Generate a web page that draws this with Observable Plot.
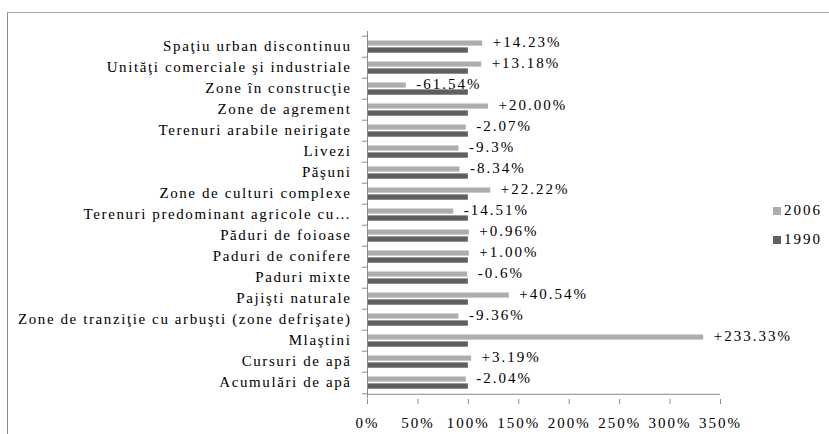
<!DOCTYPE html>
<html>
<head>
<meta charset="utf-8">
<script src="https://cdn.jsdelivr.net/npm/d3@7"></script>
<script src="https://cdn.jsdelivr.net/npm/@observablehq/plot@0.6"></script>
<style>
  html, body { margin: 0; padding: 0; background: #fff; }
  #wrap { position: relative; width: 829px; height: 434px; overflow: hidden; font-family: "Liberation Serif", "Times New Roman", serif; }
  #border { position: absolute; left: 7px; top: 12px; right: -2px; bottom: -2px; border-top: 1px solid #a8a8a8; border-left: 1px solid #8a8a8a; }
  #chart { position: absolute; left: 0; top: 0; }
  .leg { position: absolute; left: 773px; font-size: 15px; letter-spacing: 2px; color: #000; display: flex; align-items: center; line-height: 1; }
  .leg span.sw { display: inline-block; width: 8px; height: 8px; margin-right: 3px; }
  #chart svg text { font-family: "Liberation Serif", "Times New Roman", serif; }
</style>
</head>
<body>
<div id="wrap">
  <div id="border"></div>
  <div id="chart"></div>
</div>
<script>
const categories = [
  "Spaţiu urban discontinuu",
  "Unităţi comerciale şi industriale",
  "Zone în construcţie",
  "Zone de agrement",
  "Terenuri arabile neirigate",
  "Livezi",
  "Păşuni",
  "Zone de culturi complexe",
  "Terenuri predominant agricole cu…",
  "Păduri de foioase",
  "Paduri de conifere",
  "Paduri mixte",
  "Pajişti naturale",
  "Zone de tranziţie cu arbuşti (zone defrişate)",
  "Mlaştini",
  "Cursuri de apă",
  "Acumulări de apă"
];
const values1990 = [100,100,100,100,100,100,100,100,100,100,100,100,100,100,100,100,100];
const values2006 = [114.23,113.18,38.46,120.00,97.93,90.7,91.66,122.22,85.49,100.96,101.00,99.4,140.54,90.64,333.33,103.19,97.96];
const changeLabels = ["+14.23%","+13.18%","-61.54%","+20.00%","-2.07%","-9.3%","-8.34%","+22.22%","-14.51%","+0.96%","+1.00%","-0.6%","+40.54%","-9.36%","+233.33%","+3.19%","-2.04%"];
const series = ["2006", "1990"];
const colors = ["#adadad", "#5f5f5f"];
const xTicks = [0, 50, 100, 150, 200, 250, 300, 350];

const rows = categories.map((c, i) => ({cat: c, v1990: values1990[i], v2006: values2006[i], label: changeLabels[i]}));
const last = categories[categories.length - 1];

const W = 829, H = 434, mt = 31, mb = 36;
const step = (H - mt - mb) / categories.length;

const plot = Plot.plot({
  width: W,
  height: H,
  marginLeft: 367,
  marginRight: 109,
  marginTop: mt,
  marginBottom: mb,
  style: {fontFamily: "'Liberation Serif', 'Times New Roman', serif", fontSize: "15px", color: "#000", background: "transparent"},
  x: {domain: [0, 350], axis: null},
  y: {domain: categories, padding: 0, axis: null},
  marks: [
    Plot.barX(rows, {y: "cat", x: "v2006", fill: colors[0], insetTop: step / 2 - 6.3, insetBottom: step / 2 + 0.6}),
    Plot.barX(rows, {y: "cat", x: "v1990", fill: colors[1], insetTop: step / 2 + 0.6, insetBottom: step / 2 - 6.5}),
    Plot.ruleX([0], {stroke: "#8a8a8a"}),
    Plot.ruleY([last], {x1: 0, x2: 350, stroke: "#8a8a8a", dy: step / 2 + 0.5}),
    Plot.axisY({tickSize: 0, tickPadding: 16, fill: "#000", fontSize: 15, label: null, dy: -1}),
    Plot.axisY({tickSize: 5, tickFormat: () => "", stroke: "#8a8a8a", label: null, dy: -step / 2}),
    Plot.axisY({ticks: [last], tickSize: 5, tickFormat: () => "", stroke: "#8a8a8a", label: null, dy: step / 2}),
    Plot.axisX({ticks: xTicks, tickSize: 5, tickPadding: 13, stroke: "#8a8a8a", fill: "#000", label: null, tickFormat: d => d + "%", fontSize: 15, dy: 1}),
    Plot.text(rows, {y: "cat", x: "v2006", text: "label", textAnchor: "start", dx: 10, dy: -4.5, fill: "#000", fontSize: 15})
  ]
});
document.getElementById("chart").appendChild(plot);

// letter spacing to mimic the horizontally stretched reference glyphs
d3.select(plot).selectAll("g[aria-label='y-axis tick label'] text").style("letter-spacing", "1.6px");
d3.select(plot).selectAll("g[aria-label='x-axis tick label'] text").style("letter-spacing", "2px");
d3.select(plot).selectAll("g[aria-label='text'] text").style("letter-spacing", "2px");

// legend
const wrap = document.getElementById("wrap");
const legendY = [211, 240];
series.forEach((s, i) => {
  const d = document.createElement("div");
  d.className = "leg";
  d.style.top = (legendY[i] - 8) + "px";
  d.innerHTML = `<span class="sw" style="background:${colors[i]}"></span>${s}`;
  wrap.appendChild(d);
});
</script>
</body>
</html>
